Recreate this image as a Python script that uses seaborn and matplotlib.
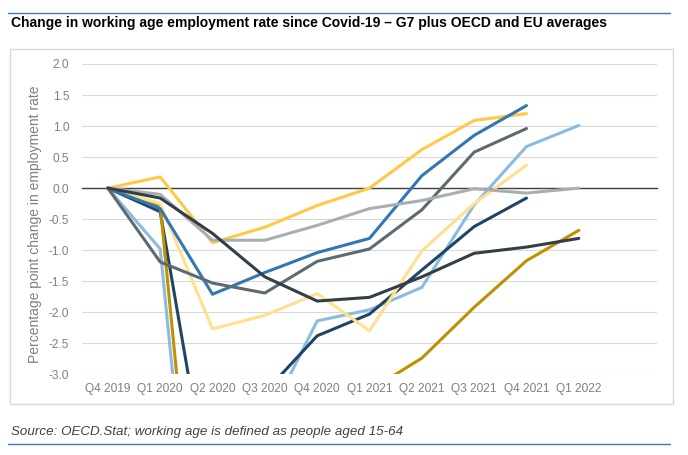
import numpy as np
import pandas as pd
import matplotlib
matplotlib.use("Agg")
import matplotlib.pyplot as plt
from matplotlib.patches import Rectangle
from matplotlib.lines import Line2D
import seaborn as sns

# ================
# Data
# ================
quarters = ["Q4 2019", "Q1 2020", "Q2 2020", "Q3 2020", "Q4 2020",
            "Q1 2021", "Q2 2021", "Q3 2021", "Q4 2021", "Q1 2022"]

canada = [0, -0.98, -9.43, -3.82, -2.14, -1.96, -1.60, -0.27, 0.67, 1.01]
italy = [0, -0.38, -5.27, -3.29, -2.38, -2.03, -1.32, -0.62, -0.16, np.nan]
united_states = [0, -0.28, -8.90, -5.50, -4.00, -3.26, -2.74, -1.92, -1.17, -0.68]
france = [0, 0.18, -0.88, -0.63, -0.28, 0.0, 0.62, 1.09, 1.20, np.nan]
oecd = [0, -0.25, -2.27, -2.05, -1.70, -2.30, -1.01, -0.25, 0.37, np.nan]
eu = [0, -0.33, -1.71, -1.36, -1.04, -0.81, 0.20, 0.85, 1.33, np.nan]
germany = [0, -1.19, -1.53, -1.69, -1.18, -0.98, -0.35, 0.58, 0.96, np.nan]
japan = [0, -0.10, -0.84, -0.84, -0.60, -0.33, -0.20, -0.01, -0.08, 0.0]
united_kingdom = [0, -0.16, -0.73, -1.43, -1.82, -1.76, -1.43, -1.05, -0.95, -0.81]

series = {
    "Canada": canada,
    "Italy": italy,
    "United States": united_states,
    "France": france,
    "OECD": oecd,
    "EU": eu,
    "Germany": germany,
    "Japan": japan,
    "United Kingdom": united_kingdom,
}

colors = {
    "Canada": "#8CBBE0",
    "Italy": "#1F4566",
    "United States": "#BF9000",
    "France": "#FFC846",
    "OECD": "#FFE08E",
    "EU": "#3277B3",
    "Germany": "#5E6A71",
    "Japan": "#A8AFB2",
    "United Kingdom": "#333F48",
}

rows = []
for name, vals in series.items():
    for i, v in enumerate(vals):
        if not np.isnan(v):
            rows.append({"series": name, "pos": i, "value": v})
df = pd.DataFrame(rows)

# ================
# Style
# ================
sns.set_style("white")
plt.rcParams["font.family"] = ["Liberation Sans", "DejaVu Sans"]
grey_text = "#7F7F7F"
W, H = 688, 455

fig = plt.figure(figsize=(W / 100, H / 100), dpi=100)
ax = fig.add_axes([81.7 / W, 1 - 374.3 / H, (657.3 - 81.7) / W, (374.3 - 64) / H])

sns.lineplot(data=df, x="pos", y="value", hue="series", palette=colors,
             hue_order=list(series.keys()), linewidth=2.2, legend=False,
             sort=False, ax=ax)

ax.set_xlim(-0.5, 10.5)
ax.set_ylim(-3, 2)
ax.set_yticks(np.arange(-3, 2.01, 0.5))
ax.set_yticklabels([f"{v:.1f}" for v in np.arange(-3, 2.01, 0.5)])
ax.grid(axis="y", color="#D9D9D9", linewidth=0.8)
ax.grid(axis="x", visible=False)
ax.set_axisbelow(True)

for s in ["top", "right", "left"]:
    ax.spines[s].set_visible(False)
ax.spines["bottom"].set_position(("data", 0))
ax.spines["bottom"].set_color("#404040")
ax.spines["bottom"].set_linewidth(1.0)
ax.spines["bottom"].set_zorder(1.5)

ax.set_xticks(range(len(quarters)))
ax.set_xticks(np.arange(-0.5, 10.6, 1), minor=True)
ax.tick_params(axis="x", which="major", length=0, labelbottom=False)
ax.tick_params(axis="x", which="minor", length=4, width=0.8, color="#404040",
               direction="out")
ax.tick_params(axis="y", length=0, pad=9, labelsize=8.6, labelcolor=grey_text)
ax.set_xlabel("")
ax.set_ylabel("Percentage point change in employment rate", fontsize=10,
              color=grey_text)
ax.yaxis.set_label_coords(-0.069, 0.484)

sec = ax.secondary_xaxis("bottom")
sec.set_xticks(range(len(quarters)), labels=quarters)
sec.tick_params(length=0, pad=6, labelsize=8.6, labelcolor=grey_text)
sec.spines["bottom"].set_visible(False)

# ================
# Frame, title, source
# ================
fig.patches.append(Rectangle((10 / W, 1 - 404 / H), 663 / W, 355 / H,
                             transform=fig.transFigure, fill=False,
                             edgecolor="#D9D9D9", linewidth=1))
fig.add_artist(Line2D([8 / W, 670 / W], [1 - 13 / H] * 2, color="#3A77AE",
                      linewidth=1))
fig.add_artist(Line2D([8 / W, 670 / W], [1 - 444 / H] * 2, color="#3A77AE",
                      linewidth=1))
fig.text(11 / W, 1 - 23 / H,
         "Change in working age employment rate since Covid-19 \u2013 G7 plus OECD and EU averages",
         fontsize=10, fontweight="bold", va="center", ha="left", color="black")
fig.text(11 / W, 1 - 432 / H,
         "Source: OECD.Stat; working age is defined as people aged 15-64",
         fontsize=9.6, style="italic", va="center", ha="left", color="#404040")

fig.savefig("out.png", dpi=100)
